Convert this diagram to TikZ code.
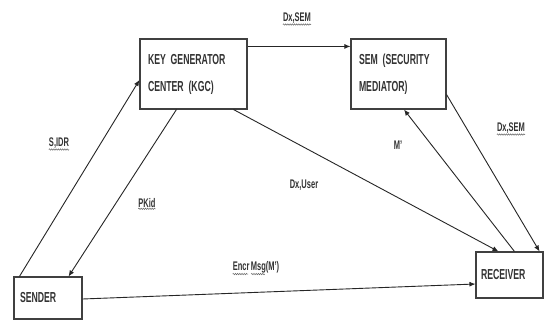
\documentclass[tikz,border=0pt]{standalone}
\usepackage{fontspec}
\setmainfont{Liberation Sans}[FakeStretch=0.6,WordSpace=0.7]
\usetikzlibrary{arrows.meta,decorations.pathmorphing,calc}
\begin{document}
\begin{tikzpicture}[x=1pt,y=-1pt,
  box/.style={draw=black!75,line width=1.1pt,inner sep=0pt,font=\fontsize{14.5}{27}\selectfont\bfseries,text=black!80,align=left},
  lbl/.style={inner sep=1pt,font=\fontsize{12.5}{13}\selectfont\bfseries,text=black!80},
  arr/.style={draw=black!85,line width=0.9pt,-{Latex[length=6pt,width=5pt]}},
  squig/.style={draw=black!60,line width=0.5pt,decorate,decoration={snake,amplitude=0.7pt,segment length=2.2pt}}]
\useasboundingbox (0,0) rectangle (544,321);
\fill[white] (0,0) rectangle (544,321);
\node[box,minimum width=107pt,minimum height=70pt,text width=91pt] (kgc) at (193.5,74) {KEY GENERATOR\\CENTER (KGC)};
\node[box,minimum width=95pt,minimum height=70pt,text width=79pt] (sem) at (398.5,74) {SEM (SECURITY\\MEDIATOR)};
\node[box,minimum width=68pt,minimum height=42pt,text width=56pt] (sender) at (48,298) {SENDER\\[-4pt]};
\node[box,minimum width=67pt,minimum height=46pt,text width=57pt] (receiver) at (509.5,275) {RECEIVER\\[-2pt]};
% connectors
\draw[arr] ([yshift=-8pt]kgc.north east) -- ([yshift=-8pt]sem.north west);
\draw[arr] ([xshift=6pt]sender.north west) -- ([yshift=-6pt]kgc.west);
\draw[arr] ([xshift=37pt]kgc.south west) -- ([xshift=-14pt]sender.north east);
\draw[arr] ([xshift=-14pt]kgc.south east) -- ([xshift=23pt]receiver.north west);
\draw[arr] ([xshift=39pt]receiver.north west) -- ([xshift=5.5pt]sem.south);
\draw[arr] ([yshift=15pt]sem.south east) -- ([xshift=-4pt]receiver.north east);
\draw[arr] ([yshift=-1pt]sender.east) -- ([yshift=-9pt]receiver.west);
% labels
\node[lbl] (l1) at (297,18) {Dx,SEM};
\node[lbl] (l2) at (59,143) {S,IDR};
\node[lbl] (l3) at (147,203) {PKid};
\node[lbl] (l4) at (304,185) {Dx,User};
\node[lbl] (l5) at (398,145) {M'};
\node[lbl] (l6) at (511,128) {Dx,SEM};
\node[lbl] (l7) at (256,267) {Encr Msg(M')};
% spell-check squiggles
\draw[squig] ([xshift=1pt]l1.south west) -- ([xshift=-1pt]l1.south east);
\draw[squig] ([xshift=1pt]l2.south west) -- ([xshift=-1pt]l2.south east);
\draw[squig] ([xshift=1pt]l3.south west) -- ([xshift=-1pt]l3.south east);
\draw[squig] ([xshift=1pt]l6.south west) -- ([xshift=-1pt]l6.south east);
\draw[squig] ([xshift=1pt]l7.south west) -- ($(l7.south west)!0.34!(l7.south east)$);
\draw[squig] ($(l7.south west)!0.40!(l7.south east)$) -- ($(l7.south west)!0.68!(l7.south east)$);
\end{tikzpicture}
\end{document}
